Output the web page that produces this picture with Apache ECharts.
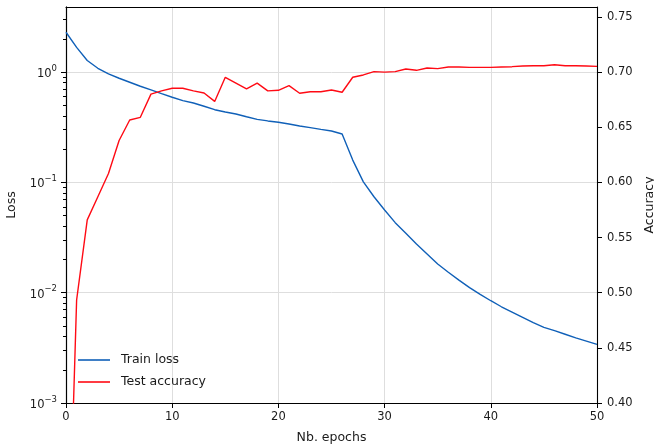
<!DOCTYPE html>
<html>
<head>
<meta charset="utf-8">
<script src="https://cdn.jsdelivr.net/npm/echarts@6/dist/echarts.min.js"></script>
<style>
html, body { margin: 0; padding: 0; background: #fff; }
#main { width: 654px; height: 446px; }
</style>
</head>
<body>
<div id="main"></div>
<script>
var epochs = [0, 1, 2, 3, 4, 5, 6, 7, 8, 9, 10, 11, 12, 13, 14, 15, 16, 17, 18, 19, 20,
	21, 22, 23, 24, 25, 26, 27, 28, 29, 30, 31, 32, 33, 34, 35, 36, 37, 38, 39, 40,
	41, 42, 43, 44, 45, 46, 47, 48, 49, 50];

var trainLoss = [2.29, 1.67, 1.27, 1.08, 0.96, 0.877, 0.807, 0.742, 0.687, 0.636, 0.590,
	0.55, 0.523, 0.489, 0.455, 0.434, 0.416, 0.393, 0.372, 0.36, 0.35,
	0.338, 0.324, 0.313, 0.302, 0.292, 0.274, 0.159, 0.101, 0.074, 0.0561,
	0.0431, 0.0345, 0.0276, 0.0224, 0.0182, 0.0153, 0.0130, 0.0111, 0.00966, 0.00845,
	0.00745, 0.00667, 0.00597, 0.00534, 0.00484, 0.00453, 0.0042, 0.00389, 0.00364, 0.0034];

var testAcc = [0.174, 0.4934, 0.566, 0.587, 0.608, 0.638, 0.6566, 0.659, 0.680, 0.683, 0.6853,
	0.6853, 0.683, 0.681, 0.6734, 0.6953, 0.690, 0.6847, 0.690, 0.683, 0.6835,
	0.6877, 0.6808, 0.6822, 0.6822, 0.6838, 0.6817, 0.6953, 0.6974, 0.7004, 0.700,
	0.7004, 0.7028, 0.7016, 0.7037, 0.7031, 0.7046, 0.7046, 0.7043, 0.7043, 0.7043,
	0.7046, 0.7049, 0.7055, 0.7058, 0.7058, 0.7067, 0.7058, 0.7058, 0.7055, 0.7052];

var lossMin = 0.001;
var lossMax = 3.88;
var lossMinor = [0.002, 0.003, 0.004, 0.005, 0.006, 0.007, 0.008, 0.009,
	0.02, 0.03, 0.04, 0.05, 0.06, 0.07, 0.08, 0.09,
	0.2, 0.3, 0.4, 0.5, 0.6, 0.7, 0.8, 0.9, 2, 3];
var accTicks = [0.40, 0.45, 0.50, 0.55, 0.60, 0.65, 0.70, 0.75];

var FONT = 'DejaVu Sans';
var INK = '#1a1a1a';
var BLUE = '#1060B8';
var RED = '#FF0A14';

function pairs(ys) {
	var out = [];
	for (var i = 0; i < epochs.length; i++) {
		out.push([epochs[i], ys[i]]);
	}
	return out;
}

// helper axis for the log minor ticks, in log10 units
var minorLog = lossMinor.map(function (v) { return Math.log(v) / Math.LN10; });

var myChart = echarts.init(document.getElementById('main'));

var option = {
	backgroundColor: '#fff',
	animation: false,
	grid: {
		left: 66,
		right: 57,
		top: 7,
		bottom: 43,
		containLabel: false,
		outerBoundsMode: 'none'
	},
	legend: {
		orient: 'vertical',
		left: 73,
		top: 348,
		itemWidth: 32,
		itemHeight: 1.6,
		itemGap: 8,
		icon: 'rect',
		textStyle: {
			fontFamily: FONT,
			fontSize: 12.5,
			color: INK,
			lineHeight: 14,
			padding: [0, 0, 0, 6]
		},
		data: ['Train loss', 'Test accuracy']
	},
	xAxis: [{
		type: 'value',
		min: 0,
		max: 50,
		interval: 10,
		name: 'Nb. epochs',
		nameLocation: 'middle',
		nameGap: 28,
		nameTextStyle: { fontFamily: FONT, fontSize: 12.5, color: INK },
		axisLine: { show: true, onZero: false, lineStyle: { color: '#000', width: 1.1 } },
		axisTick: { show: true, length: 5, lineStyle: { color: '#000', width: 1 } },
		axisLabel: { fontFamily: FONT, fontSize: 11.5, color: INK, margin: 8 },
		splitLine: { show: true, lineStyle: { color: '#dedede', width: 1 } }
	}, {
		type: 'value',
		position: 'top',
		min: 0,
		max: 50,
		axisLine: { show: true, onZero: false, lineStyle: { color: '#000', width: 1.1 } },
		axisTick: { show: false },
		axisLabel: { show: false },
		splitLine: { show: false }
	}],
	yAxis: [{
		type: 'log',
		logBase: 10,
		min: lossMin,
		max: lossMax,
		position: 'left',
		name: 'Loss',
		nameLocation: 'middle',
		nameGap: 48,
		nameTextStyle: { fontFamily: FONT, fontSize: 12.5, color: INK },
		axisLine: { show: true, onZero: false, lineStyle: { color: '#000', width: 1.1 } },
		axisTick: { show: true, length: 5, lineStyle: { color: '#000', width: 1 } },
		axisLabel: {
			margin: 9,
			showMaxLabel: false,
			formatter: function (v) {
				var p = Math.round(Math.log(v) / Math.LN10);
				var s = p < 0 ? '\u2212' + (-p) : '' + p;
				return '{b|10}{s|' + s + '}';
			},
			rich: {
				b: { fontFamily: FONT, fontSize: 11.5, color: INK, verticalAlign: 'bottom', lineHeight: 16 },
				s: { fontFamily: FONT, fontSize: 8.5, color: INK, verticalAlign: 'top', lineHeight: 16 }
			}
		},
		splitLine: { show: true, lineStyle: { color: '#dedede', width: 1 } }
	}, {
		type: 'value',
		min: -3,
		max: Math.log(lossMax) / Math.LN10,
		position: 'left',
		axisLine: { show: true, onZero: false, lineStyle: { color: '#000', width: 1.1 } },
		axisTick: { show: true, length: 3, customValues: minorLog, lineStyle: { color: '#000', width: 1 } },
		axisLabel: { show: false },
		splitLine: { show: false }
	}, {
		type: 'value',
		min: 0.4,
		max: 0.759,
		position: 'right',
		name: 'Accuracy',
		nameLocation: 'middle',
		nameGap: 43,
		nameRotate: 90,
		nameTextStyle: { fontFamily: FONT, fontSize: 12.5, color: INK },
		axisLine: { show: true, onZero: false, lineStyle: { color: '#000', width: 1.1 } },
		axisTick: { show: true, length: 5, customValues: accTicks, lineStyle: { color: '#000', width: 1 } },
		axisLabel: {
			customValues: accTicks,
			fontFamily: FONT,
			fontSize: 11.5,
			color: INK,
			margin: 10,
			formatter: function (v) { return v.toFixed(2); }
		},
		splitLine: { show: false }
	}],
	series: [{
		name: 'Train loss',
		type: 'line',
		xAxisIndex: 0,
		yAxisIndex: 0,
		symbol: 'none',
		color: BLUE,
		lineStyle: { width: 1.4, color: BLUE },
		data: pairs(trainLoss)
	}, {
		name: 'Test accuracy',
		type: 'line',
		xAxisIndex: 0,
		yAxisIndex: 2,
		symbol: 'none',
		clip: true,
		color: RED,
		lineStyle: { width: 1.4, color: RED },
		data: pairs(testAcc)
	}]
};
myChart.setOption(option);
</script>
</body>
</html>
